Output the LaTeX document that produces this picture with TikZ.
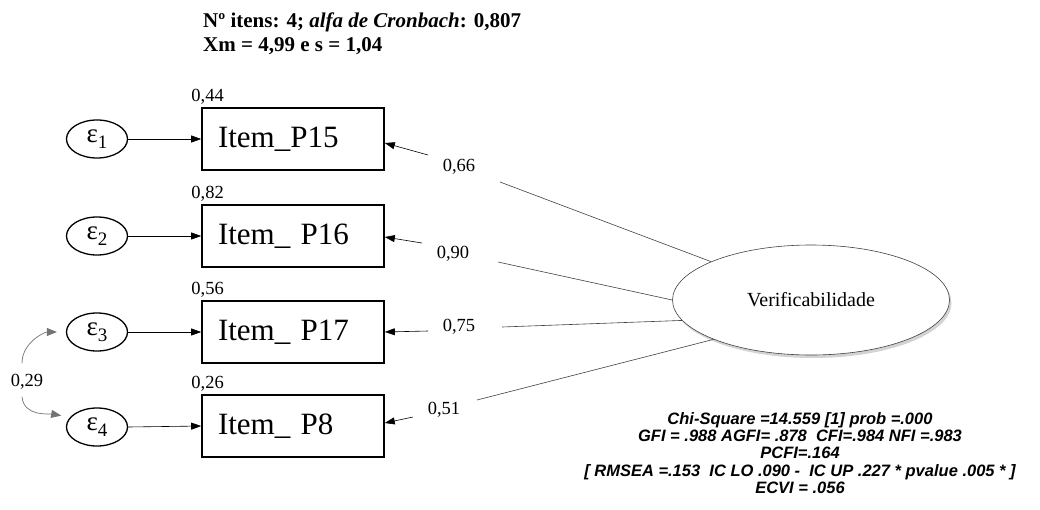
\documentclass[tikz,border=0pt]{standalone}
\usepackage{fontspec}
\setmainfont{Liberation Serif}
\newfontfamily\arialf{Liberation Sans}
\usetikzlibrary{shapes.geometric,arrows.meta,shadows}
\begin{document}
\begin{tikzpicture}[x=1pt,y=-1pt,
  itembox/.style={draw, line width=1.6pt, minimum height=62pt, text width=150pt, align=left, inner xsep=16pt, inner ysep=0pt, font=\fontsize{31}{33}\selectfont},
  errell/.style={draw, ellipse, line width=1.3pt, minimum width=61pt, minimum height=38pt, inner sep=0pt, font=\fontsize{27}{28}\selectfont},
  numlab/.style={font=\fontsize{18.5}{20}\selectfont, inner sep=1pt},
  arr/.style={-{Triangle[length=10pt,width=7pt]}, line width=0.6pt},
  link/.style={line width=0.6pt, draw=black!75},
  curv/.style={-{Triangle[length=10pt,width=8pt]}, line width=0.7pt, draw=black!55}
]
\useasboundingbox (0,0) rectangle (1040,509);

% title
\node[anchor=north west, align=left, inner sep=0pt, font=\fontsize{21}{24}\selectfont\bfseries] (title) at (203,13)
  {Nº itens: 4; \textit{alfa de Cronbach}: 0,807\\Xm = 4,99 e s = 1,04};

% item boxes
\node[itembox] (b1) at (293,139) {Item\_P15};
\node[itembox] (b2) at (293,236) {Item\_ P16};
\node[itembox] (b3) at (293,332) {Item\_ P17};
\node[itembox] (b4) at (293,426) {Item\_ P8};

% r-squared labels
\node[numlab, anchor=south west] (r1) at ([xshift=-11pt,yshift=2pt]b1.north west) {0,44};
\node[numlab, anchor=south west] (r2) at ([xshift=-11pt,yshift=2pt]b2.north west) {0,82};
\node[numlab, anchor=south west] (r3) at ([xshift=-11pt,yshift=2pt]b3.north west) {0,56};
\node[numlab, anchor=south west] (r4) at ([xshift=-11pt,yshift=2pt]b4.north west) {0,26};

% error terms
\node[errell] (e1) at (97,139) {ε\raisebox{-0.5ex}{\fontsize{19}{19}\selectfont 1}};
\node[errell] (e2) at (97,236) {ε\raisebox{-0.5ex}{\fontsize{19}{19}\selectfont 2}};
\node[errell] (e3) at (97,332) {ε\raisebox{-0.5ex}{\fontsize{19}{19}\selectfont 3}};
\node[errell] (e4) at (97,427) {ε\raisebox{-0.5ex}{\fontsize{19}{19}\selectfont 4}};

\foreach \i in {1,2,3,4} {
  \draw[arr] (e\i.east) -- (b\i.west);
}

% latent
\node[draw=black!75, line width=0.6pt, ellipse, fill=white,
      drop shadow={opacity=0.35, shadow xshift=2pt, shadow yshift=-3pt},
      minimum width=277pt, minimum height=110pt, inner sep=0pt, font=\fontsize{20}{22}\selectfont] (L) at (811,300) {Verificabilidade};

% loadings
\node[numlab] (l1) at (459,167) {0,66};
\node[numlab] (l2) at (453,254) {0,90};
\node[numlab] (l3) at (459,327) {0,75};
\node[numlab] (l4) at (444,410) {0,51};

\coordinate (s1) at (500,182);
\coordinate (s2) at (498,262);
\coordinate (s3) at (502,327);
\coordinate (s4) at (477,400);
\coordinate (a1) at (428,155);
\coordinate (a2) at (422,243);
\coordinate (a3) at (428,331);
\coordinate (a4) at (413,417);

\draw[link] (L.159) -- (s1);
\draw[link] (L.west) -- (s2);
\draw[link] (L.189) -- (s3);
\draw[link] (L.202) -- (s4);

\draw[arr] (a1) -- ([yshift=-4pt]b1.east);
\draw[arr] (a2) -- ([yshift=-1pt]b2.east);
\draw[arr] (a3) -- (b3.east);
\draw[arr] (a4) -- ([yshift=3pt]b4.east);

% correlation
\node[numlab] (c34) at (27,382) {0,29};
\draw[curv, shorten >=9pt] ([xshift=-5pt,yshift=10pt]c34.north) to[out=90,in=180] (e3.west);
\draw[curv, shorten >=9pt] ([xshift=-5pt,yshift=-6pt]c34.south) to[out=-85,in=170] (e4.160);

% fit statistics
\node[align=center, inner sep=0pt, font=\arialf\bfseries\itshape\fontsize{16.5}{17.2}\selectfont] (fit) at (800,453)
  {Chi-Square =14.559 {[}1{]} prob =.000\\
   GFI = .988 AGFI= .878\ \ CFI=.984 NFI =.983\hspace*{38pt}\\
   PCFI=.164\\
   {[} RMSEA =.153\ \ IC LO .090 -\ \ IC UP .227 * pvalue .005 * {]}\hspace*{62pt}\\
   ECVI = .056};
\end{tikzpicture}
\end{document}
